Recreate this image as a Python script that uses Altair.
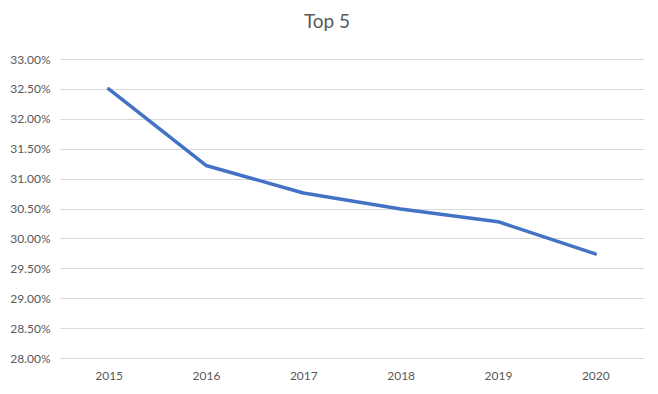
import altair as alt
import pandas as pd

years = ["2015", "2016", "2017", "2018", "2019", "2020"]
share = [0.3250, 0.3122, 0.3076, 0.3049, 0.3028, 0.2974]
y_ticks = [0.28, 0.285, 0.29, 0.295, 0.30, 0.305, 0.31, 0.315, 0.32, 0.325, 0.33]

df = pd.DataFrame({"year": years, "share": share})

font = "Lato"
grey = "#595959"

chart = alt.Chart(df).mark_line(
    color="#4472C4", strokeWidth=3.5, strokeCap="round", strokeJoin="round"
).encode(
    x=alt.X("year:O", sort=years, scale=alt.Scale(type="point", padding=0.5),
            axis=alt.Axis(title=None, labelAngle=0, domain=False, ticks=False,
                          labelPadding=12, labelFontSize=12, labelColor=grey, labelFont=font,
                          grid=False)),
    y=alt.Y("share:Q", scale=alt.Scale(domain=[0.28, 0.33], nice=False, zero=False),
            axis=alt.Axis(title=None, values=y_ticks, format=".2%", domain=False, ticks=False,
                          labelPadding=10, labelFontSize=12, labelColor=grey, labelFont=font,
                          grid=True, gridColor="#d9d9d9", gridWidth=1)),
).properties(
    width=584, height=299,
    background="white",
    title=alt.TitleParams("Top 5", fontSize=19, font=font, color=grey, fontWeight="normal",
                          anchor="middle", dx=-25, offset=21),
    autosize=alt.AutoSizeParams(type="none"),
    padding={"left": 52, "top": 51, "right": 6, "bottom": 28},
).configure_view(stroke=None)

chart.save("out.html", embed_options={"renderer": "svg", "actions": False})
